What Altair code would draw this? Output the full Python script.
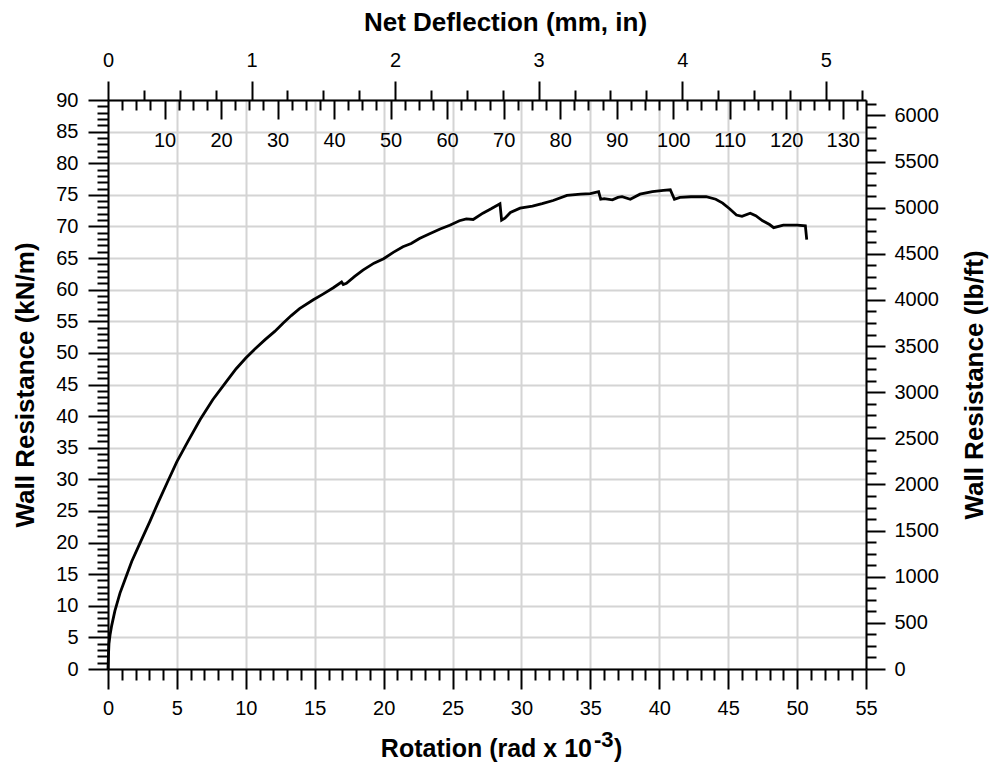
import altair as alt
import pandas as pd

# ---- data ----
rotation = [0, 0.03, 0.07, 0.15, 0.27, 0.5, 0.87, 1.23, 1.72, 2.32, 3.05, 3.65, 4.3, 5.0,
            5.8, 6.7, 7.6, 8.6, 9.3, 10.0, 10.7, 11.4, 12.1, 12.7, 13.3, 13.9, 14.9,
            15.6, 16.35, 16.95, 17.07, 17.3, 17.9, 18.5, 19.3, 20.0, 20.7, 21.4, 22.0,
            22.6, 23.3, 24.1, 24.8, 25.5, 26.0, 26.5, 27.2, 27.8, 28.44, 28.56, 28.8,
            29.2, 29.9, 30.8, 31.5, 32.3, 33.3, 34.3, 35.0, 35.6, 35.75, 36.0, 36.6,
            37.0, 37.3, 37.9, 38.6, 39.5, 40.3, 40.8, 41.1, 41.5, 42.3, 43.4, 44.1,
            44.6, 45.1, 45.6, 46.0, 46.6, 47.0, 47.5, 48.0, 48.3, 49.0, 50.0, 50.6, 50.7]
resistance = [0, 2.0, 4.0, 5.4, 6.9, 9.2, 12.0, 14.1, 17.0, 19.9, 23.4, 26.4, 29.5, 32.8,
              36.0, 39.5, 42.6, 45.5, 47.5, 49.2, 50.7, 52.1, 53.4, 54.7, 55.9, 57.0,
              58.4, 59.3, 60.3, 61.2, 60.8, 61.0, 62.1, 63.1, 64.2, 64.9, 65.9, 66.8,
              67.3, 68.1, 68.8, 69.6, 70.2, 70.9, 71.2, 71.1, 72.1, 72.8, 73.6, 71.0,
              71.3, 72.2, 72.9, 73.2, 73.6, 74.1, 74.9, 75.1, 75.2, 75.5, 74.3, 74.4,
              74.2, 74.6, 74.7, 74.3, 75.1, 75.5, 75.7, 75.8, 74.3, 74.6, 74.7, 74.7,
              74.3, 73.7, 72.8, 71.8, 71.6, 72.1, 71.7, 70.9, 70.3, 69.8, 70.2, 70.2,
              70.1, 67.9]

x_major = list(range(0, 56, 5))
x_minor = [v for v in range(0, 56) if v % 5]
y_major = list(range(0, 91, 5))
y_minor = [v for v in range(0, 91) if v % 5]
lb_major = list(range(0, 6001, 500))
lb_minor = [v for v in range(0, 6167, 125) if v % 500]
in_major = [0, 1, 2, 3, 4, 5]
in_minor = [0.25 * k for k in range(1, 22) if k % 4]
mm_major = list(range(10, 131, 10))
mm_minor = [2.5 * k for k in range(1, 54) if k % 4]

KN_TO_LB = 68.5218      # 1 kN/m in lb/ft
HALF_SPAN_IN = 96.0     # deflection = rotation * L/2, L = 16 ft
ROT_MAX, KN_MAX = 55, 90

df = pd.DataFrame({"rot": rotation, "kn": resistance})
df["lb"] = df["kn"] * KN_TO_LB
df["inch"] = df["rot"] * 1e-3 * HALF_SPAN_IN
df["mm"] = df["inch"] * 25.4

W, H = 758, 569
FONT = "Liberation Sans"
TSIZE = 26

xs = alt.Scale(domain=[0, ROT_MAX], nice=False, zero=False)
ys = alt.Scale(domain=[0, KN_MAX], nice=False, zero=False)
lbs = alt.Scale(domain=[0, KN_MAX * KN_TO_LB], nice=False, zero=False)
ins = alt.Scale(domain=[0, ROT_MAX * 1e-3 * HALF_SPAN_IN], nice=False, zero=False)
mms = alt.Scale(domain=[0, ROT_MAX * 1e-3 * HALF_SPAN_IN * 25.4], nice=False, zero=False)


def axis(orient, values, size, labels=False, grid=False, domain=False, **kw):
    d = dict(orient=orient, values=values, tickSize=size, grid=grid, domain=domain,
             labels=labels, tickColor="black", tickWidth=2, title=None)
    if labels:
        d.update(labelFontSize=20, labelFont=FONT, labelColor="black",
                 labelFlush=False, labelOverlap=False, format="d")
    d.update(kw)
    return alt.Axis(**d)


base = alt.Chart(df)

main = base.mark_line(color="black", strokeWidth=2.8).encode(
    x=alt.X("rot:Q", scale=xs,
            axis=axis("bottom", x_major, 20, labels=True, grid=True, domain=True,
                      labelPadding=9)),
    y=alt.Y("kn:Q", scale=ys,
            axis=axis("left", y_major, 20, labels=True, grid=True, domain=True,
                      labelPadding=10, title="Wall Resistance (kN/m)",
                      titleAngle=270, titleX=-83, titleY=H / 2,
                      titleBaseline="middle", titleAlign="center")),
)

minor_xy = base.mark_line(strokeOpacity=0).encode(
    x=alt.X("rot:Q", scale=xs, axis=axis("bottom", x_minor, 11)),
    y=alt.Y("kn:Q", scale=ys, axis=axis("left", y_minor, 11)),
)

right_major = base.mark_line(strokeOpacity=0).encode(
    x=alt.X("rot:Q", scale=xs, axis=None),
    y=alt.Y("lb:Q", scale=lbs,
            axis=axis("right", lb_major, 19, labels=True, domain=True, labelPadding=9,
                      title="Wall Resistance (lb/ft)", titleAngle=270, titleX=108,
                      titleY=H / 2, titleBaseline="middle", titleAlign="center")),
)
right_minor = base.mark_line(strokeOpacity=0).encode(
    x=alt.X("rot:Q", scale=xs, axis=None),
    y=alt.Y("lb:Q", scale=lbs, axis=axis("right", lb_minor, 10)),
)

top_major = base.mark_line(strokeOpacity=0).encode(
    x=alt.X("inch:Q", scale=ins,
            axis=axis("top", in_major, 19, labels=True, domain=True, labelPadding=11,
                      title="Net Deflection (mm, in)", titleX=397, titleY=-78,
                      titleBaseline="middle", titleAlign="center")),
    y=alt.Y("kn:Q", scale=ys, axis=None),
)
top_minor = base.mark_line(strokeOpacity=0).encode(
    x=alt.X("inch:Q", scale=ins, axis=axis("top", in_minor, 10)),
    y=alt.Y("kn:Q", scale=ys, axis=None),
)

mm_maj = base.mark_line(strokeOpacity=0).encode(
    x=alt.X("mm:Q", scale=mms,
            axis=axis("bottom", mm_major, 19, labels=True, offset=-H, labelPadding=11)),
    y=alt.Y("kn:Q", scale=ys, axis=None),
)
mm_min = base.mark_line(strokeOpacity=0).encode(
    x=alt.X("mm:Q", scale=mms, axis=axis("bottom", mm_minor, 10, offset=-H)),
    y=alt.Y("kn:Q", scale=ys, axis=None),
)

title_main = alt.Chart(pd.DataFrame({"t": ["Rotation (rad x 10"]})).mark_text(
    align="right", baseline="alphabetic", font=FONT, fontSize=25, fontWeight="bold",
    color="black").encode(text="t:N", x=alt.value(484), y=alt.value(657))
title_sup = alt.Chart(pd.DataFrame({"t": ["-3"]})).mark_text(
    align="left", baseline="alphabetic", font=FONT, fontSize=22, fontWeight="bold",
    color="black").encode(text="t:N", x=alt.value(486), y=alt.value(647))
title_end = alt.Chart(pd.DataFrame({"t": [")"]})).mark_text(
    align="left", baseline="alphabetic", font=FONT, fontSize=25, fontWeight="bold",
    color="black").encode(text="t:N", x=alt.value(506), y=alt.value(657))

chart = alt.layer(
    main, minor_xy, right_major, right_minor, top_major, top_minor, mm_maj, mm_min,
    title_main, title_sup, title_end,
).resolve_scale(x="independent", y="independent").properties(
    width=W, height=H,
    autosize=alt.AutoSizeParams(type="none"),
    padding={"left": 100, "top": 92, "right": 123, "bottom": 94},
).configure_axis(
    titleFont=FONT, titleFontSize=TSIZE, titleFontWeight="bold", titleColor="black",
    domainColor="black", domainWidth=2, gridColor="#d4d4d4", gridWidth=2,
).configure_view(stroke=None)

chart.save("out.html", embed_options={"renderer": "svg", "actions": False})
